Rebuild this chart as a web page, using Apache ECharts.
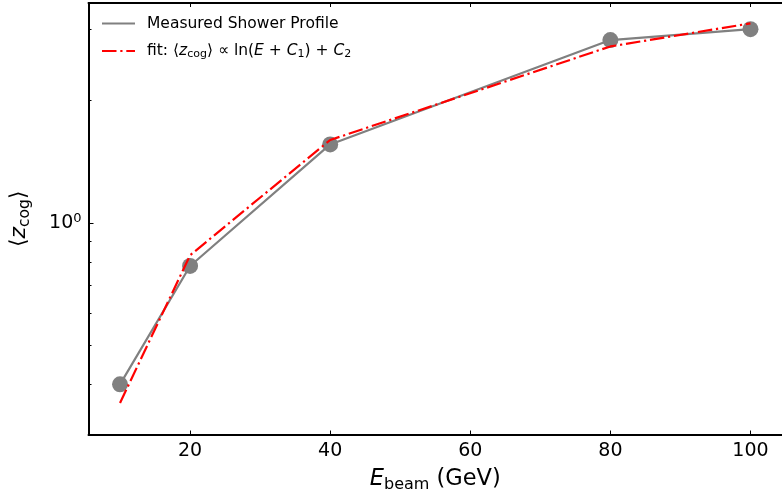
<!DOCTYPE html>
<html><head><meta charset="utf-8">
<script src="https://cdn.jsdelivr.net/npm/echarts@6/dist/echarts.min.js"></script>
<style>html,body{margin:0;padding:0;background:#fff}#c{width:782px;height:498px}</style>
</head><body><div id="c"></div>
<script>
const energies = [10, 20, 40, 80, 100];
const measured = [0.40, 0.783, 1.56, 2.82, 3.00];
const fitValues = [0.36, 0.832, 1.60, 2.72, 3.10];
const xTicks = [20, 40, 60, 80, 100];
const yMinorTicks = [0.4, 0.5, 0.6, 0.7, 0.8, 0.9, 2, 3];
const yMajorTicks = [1];
const measuredName = 'Measured Shower Profile';
const fitName = 'fit';

const FONT = 'DejaVu Sans';
const chart = echarts.init(document.getElementById('c'), null, {renderer: 'canvas'});
const pair = (xs, ys) => xs.map((x, i) => [x, ys[i]]);
const X_MIN = 5.5, X_MAX = 104.5, Y_MIN = 0.301, Y_MAX = 3.48;

const baseY = {
  type: 'log', logBase: 10, min: Y_MIN, max: Y_MAX, position: 'left',
  axisLine: {show: true, onZero: false, lineStyle: {color: '#000', width: 2}},
  splitLine: {show: false}, minorTick: {show: false}, minorSplitLine: {show: false}
};

const labelRich = (big, small) => ({
  t: {fontFamily: FONT, fontSize: big, lineHeight: big + 5, color: '#000'},
  i: {fontFamily: FONT, fontSize: big, lineHeight: big + 5, fontStyle: 'italic', color: '#000'},
  s: {fontFamily: FONT, fontSize: small, lineHeight: small - 2, verticalAlign: 'bottom', color: '#000'}
});

chart.setOption({
  animation: false,
  backgroundColor: '#fff',
  grid: {left: 88, right: -6.5, top: 3, bottom: 61.5, containLabel: false},
  legend: {
    orient: 'vertical', left: 101, top: 15.5, padding: 0,
    itemWidth: 33, itemHeight: 14, itemGap: 11.5,
    itemStyle: {opacity: 0, borderWidth: 0},
    data: [measuredName, fitName],
    formatter: function (name) {
      if (name === fitName) {
        return '{t|fit: ⟨}{i|z}{s|cog}{t|⟩ ∝ ln(}{i|E}{t| + }{i|C}{s|1}{t|) + }{i|C}{s|2}';
      }
      return '{t|' + name + '}';
    },
    textStyle: {
      fontFamily: FONT, fontSize: 15.5, color: '#000', padding: [0, 0, 0, 7],
      rich: {
        t: {fontFamily: FONT, fontSize: 15.5, lineHeight: 18, color: '#000'},
        i: {fontFamily: FONT, fontSize: 15.5, lineHeight: 18, fontStyle: 'italic', color: '#000'},
        s: {fontFamily: FONT, fontSize: 11, lineHeight: 10, verticalAlign: 'bottom', color: '#000'}
      }
    }
  },
  xAxis: [{
    type: 'value', min: X_MIN, max: X_MAX, position: 'bottom',
    name: '{i|E}{s|beam}{t| (GeV)}', nameLocation: 'middle', nameGap: 31,
    nameTextStyle: {fontFamily: FONT, fontSize: 22.5, color: '#000', rich: labelRich(22.5, 16)},
    axisLine: {show: true, onZero: false, lineStyle: {color: '#000', width: 2}},
    axisTick: {show: true, inside: true, length: 4, customValues: xTicks, lineStyle: {color: '#000', width: 1}},
    axisLabel: {show: true, customValues: xTicks, margin: 7, fontFamily: FONT, fontSize: 19, color: '#000'},
    splitLine: {show: false}
  }, {
    type: 'value', min: X_MIN, max: X_MAX, position: 'top',
    axisLine: {show: true, onZero: false, lineStyle: {color: '#000', width: 2}},
    axisTick: {show: true, inside: true, length: 4, customValues: xTicks, lineStyle: {color: '#000', width: 1}},
    axisLabel: {show: false},
    splitLine: {show: false}
  }],
  yAxis: [Object.assign({}, baseY, {
    name: '{t|⟨}{i|z}{s|cog}{t|⟩}', nameLocation: 'middle', nameRotate: 90, nameGap: 56,
    nameTextStyle: {fontFamily: FONT, fontSize: 22, color: '#000', rich: labelRich(22, 15.5)},
    axisTick: {show: true, inside: true, length: 3, customValues: yMinorTicks, lineStyle: {color: '#000', width: 1}},
    axisLabel: {show: false}
  }), Object.assign({}, baseY, {
    axisTick: {show: true, inside: true, length: 5, customValues: yMajorTicks, lineStyle: {color: '#000', width: 1}},
    axisLabel: {
      show: true, customValues: yMajorTicks, margin: 7,
      formatter: function () { return '{n|10}{p|0}'; },
      rich: {
        n: {fontFamily: FONT, fontSize: 19, lineHeight: 22, color: '#000'},
        p: {fontFamily: FONT, fontSize: 13, lineHeight: 12, verticalAlign: 'top', color: '#000'}
      }
    }
  })],
  series: [{
    name: measuredName, type: 'line', xAxisIndex: 0, yAxisIndex: 0,
    data: pair(energies, measured), symbol: 'none', z: 2,
    lineStyle: {color: '#808080', width: 2.2}, itemStyle: {color: '#808080'}
  }, {
    name: 'markers', type: 'scatter', xAxisIndex: 0, yAxisIndex: 0,
    data: pair(energies, measured), symbol: 'circle', symbolSize: 16, z: 3,
    itemStyle: {color: '#808080', opacity: 1}
  }, {
    name: fitName, type: 'line', xAxisIndex: 0, yAxisIndex: 0,
    data: pair(energies, fitValues), symbol: 'none', z: 4,
    lineStyle: {color: '#ff0000', width: 2.2, type: [14.5, 3.8, 2.2, 3.8]}, itemStyle: {color: '#ff0000'}
  }]
});
</script></body></html>
